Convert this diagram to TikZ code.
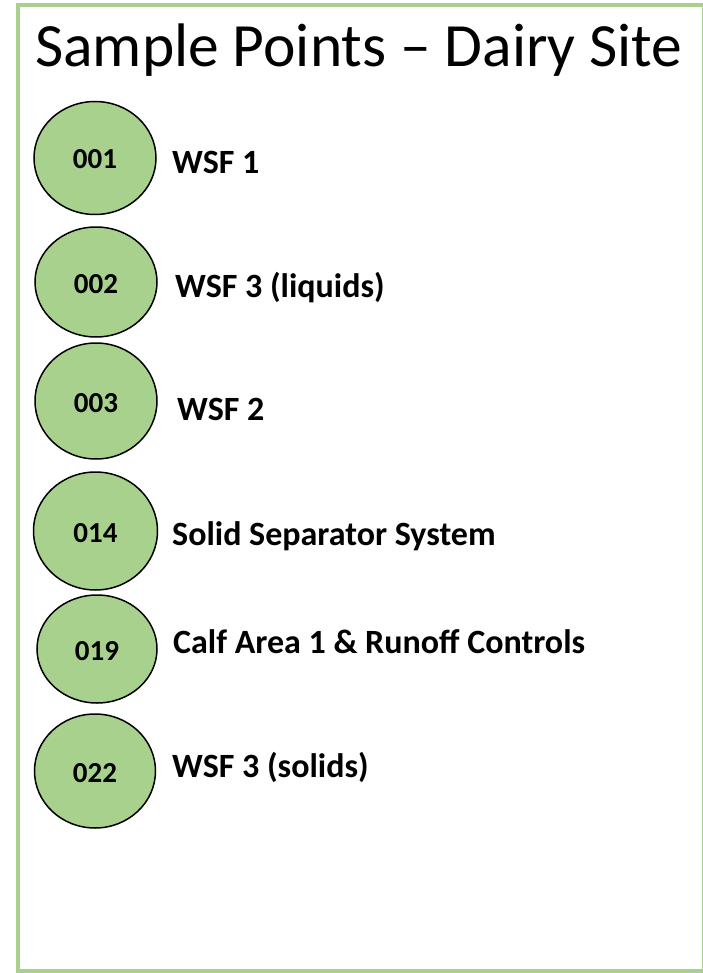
\documentclass[tikz,border=0pt]{standalone}
\usepackage{fontspec}
\setmainfont{Carlito}
\usetikzlibrary{shapes.geometric}
\definecolor{pgreen}{HTML}{A9D18E}
\tikzset{
  pt/.style={ellipse, draw=black, line width=1.5pt, fill=pgreen, inner sep=0pt,
    text height=22pt, text depth=0pt,
    font=\fontsize{29}{29}\selectfont\bfseries},
  lab/.style={anchor=base west, inner sep=0pt, font=\fontsize{34}{34}\selectfont\bfseries},
}
\begin{document}
\begin{tikzpicture}[x=1pt,y=-1pt]
\useasboundingbox (0,0) rectangle (702,973);
\draw[pgreen, line width=4pt] (18,5) rectangle (703.5,971);
\node[anchor=base west, inner sep=0pt, font=\fontsize{61.5}{61.5}\selectfont] (title) at (35,67) {Sample Points – Dairy Site};

\node[pt, minimum width=122pt, minimum height=113pt] (c1) at (95,158) {001};
\node[lab] (l1) at (172,174) {WSF 1};

\node[pt, minimum width=122pt, minimum height=110pt] (c2) at (96,282) {002};
\node[lab] (l2) at (175,297) {WSF 3 (liquids)};

\node[pt, minimum width=122pt, minimum height=116pt] (c3) at (96,401) {003};
\node[lab] (l3) at (177,420) {WSF 2};

\node[pt, minimum width=124pt, minimum height=118pt] (c4) at (95.5,531) {014};
\node[lab] (l4) at (172,545) {Solid Separator System};

\node[pt, minimum width=120pt, minimum height=108pt] (c5) at (97,649) {019};
\node[lab] (l5) at (173,653) {Calf Area 1 \& Runoff Controls};

\node[pt, minimum width=121pt, minimum height=114pt] (c6) at (95,771) {022};
\node[lab] (l6) at (172,777) {WSF 3 (solids)};
\end{tikzpicture}
\end{document}
